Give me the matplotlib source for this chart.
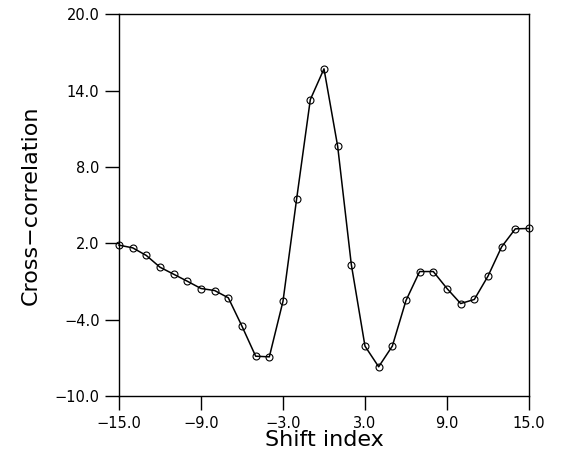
import numpy as np
import matplotlib.pyplot as plt

shift = np.arange(-15, 16)
xcorr = [1.87, 1.66, 1.06, 0.14, -0.41, -0.96, -1.53, -1.69, -2.26, -4.49,
         -6.84, -6.89, -2.53, 5.51, 13.29, 15.70, 9.63, 0.35, -6.05, -7.67,
         -6.05, -2.47, -0.20, -0.20, -1.53, -2.71, -2.39, -0.56, 1.74, 3.15, 3.18]
xticks = [-15, -9, -3, 3, 9, 15]
yticks = [-10, -4, 2, 8, 14, 20]


def fmt(v):
    return ('%.1f' % v).replace('-', '\u2212')


fig = plt.figure(figsize=(5.68, 4.55), dpi=100)
ax = fig.add_axes([0.2095, 0.1286, 0.7218, 0.8406])

ax.plot(shift, xcorr, color='black', lw=1.1, marker='o', ms=5,
        mfc='none', mec='black', mew=0.8, clip_on=False)

ax.set_xlim(-15, 15)
ax.set_ylim(-10, 20)
ax.set_xticks(xticks)
ax.set_xticklabels([fmt(v) for v in xticks])
ax.set_yticks(yticks)
ax.set_yticklabels([fmt(v) for v in yticks])
ax.tick_params(direction='out', length=10, width=1, labelsize=10.5, pad=4)
for s in ax.spines.values():
    s.set_linewidth(1)

ax.set_xlabel('Shift index', fontsize=16, labelpad=-1)
ax.set_ylabel('Cross\u2212correlation', fontsize=16, labelpad=10)

fig.savefig('out.png', dpi=100)
